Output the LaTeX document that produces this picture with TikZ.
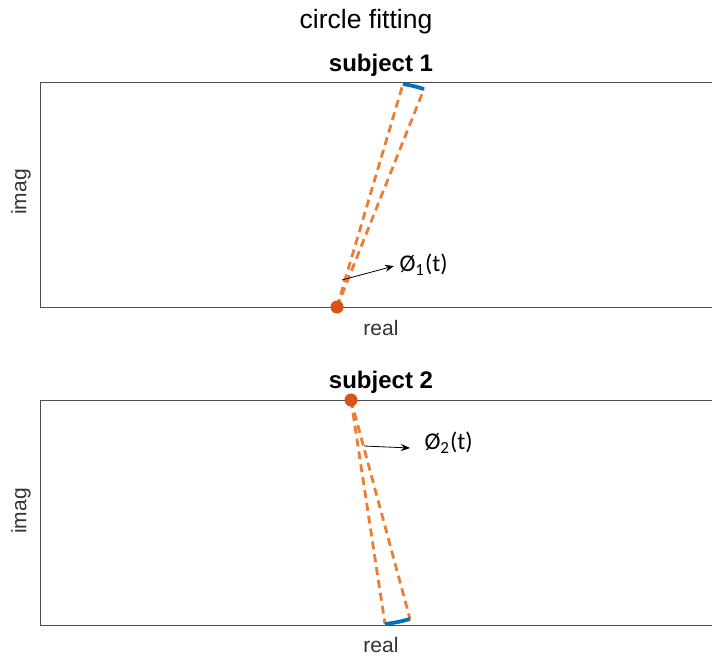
\documentclass[tikz,border=0pt]{standalone}
\usepackage{fontspec}
\setmainfont{Liberation Sans}
\newfontfamily\lblfont{Carlito}
\usetikzlibrary{arrows.meta}
\definecolor{axisgray}{HTML}{4D4D4D}
\definecolor{mlorange}{HTML}{ED7D31}
\definecolor{mldot}{HTML}{D95319}
\definecolor{mlblue}{HTML}{0072BD}
\newcommand{\phisub}[1]{\raisebox{-4pt}{\fontsize{17}{20}\selectfont #1}\kern1pt}
\tikzset{
  axbox/.style={draw=axisgray, line width=1pt},
  fitline/.style={draw=mlorange, dash pattern=on 8pt off 5pt, line width=2.8pt},
  arcline/.style={draw=mlblue, line width=3.8pt},
  centerdot/.style={circle, fill=mldot, inner sep=0pt, minimum size=13pt},
  axlabel/.style={font=\fontsize{21}{24}\selectfont, text=black!80},
  subtitle/.style={font=\bfseries\fontsize{24}{28}\selectfont},
  philabel/.style={font=\lblfont\fontsize{24}{28}\selectfont, anchor=west},
  pointer/.style={-{Stealth[length=9pt,width=7pt]}, line width=0.8pt}
}
\begin{document}
\begin{tikzpicture}[x=1pt,y=-1pt]
\useasboundingbox (0,0) rectangle (712,657);
% title
\node[font=\fontsize{26.5}{30}\selectfont] (title) at (366,22) {circle fitting};
% ---- top panel
\draw[axbox] (40,82) rectangle (714,307);
\node[subtitle] (s1) at (381,65) {subject 1};
\node[axlabel] (x1) at (381,328) {real};
\node[axlabel, rotate=90] (y1) at (21,192) {imag};
\coordinate (a1) at (403,84);
\coordinate (b1) at (424,89);
\draw[fitline] (337,307) -- (a1);
\draw[fitline] (337,307) -- (b1);
\draw[arcline] (a1) to[bend left=4] (b1);
\node[centerdot] (c1) at (337,307) {};
\coordinate (p1s) at (342,280);
\node[philabel] (phi1) at (396,265) {Ø\phisub{1}(t)};
\draw[pointer] (p1s) -- ([xshift=-2pt,yshift=-1pt]phi1.west);
% ---- bottom panel
\draw[axbox] (40,400) rectangle (714,625);
\node[subtitle] (s2) at (381,382) {subject 2};
\node[axlabel] (x2) at (381,645) {real};
\node[axlabel, rotate=90] (y2) at (21,511) {imag};
\coordinate (a2) at (385,624);
\coordinate (b2) at (410,619);
\draw[fitline] (351,400) -- (a2);
\draw[fitline] (351,400) -- (b2);
\draw[arcline] (a2) to[bend right=4] (b2);
\node[centerdot] (c2) at (351,400) {};
\coordinate (p2s) at (364,446);
\node[philabel] (phi2) at (421,443) {Ø\phisub{2}(t)};
\draw[pointer] (p2s) -- ([xshift=-11pt,yshift=-5pt]phi2.west);
\end{tikzpicture}
\end{document}
